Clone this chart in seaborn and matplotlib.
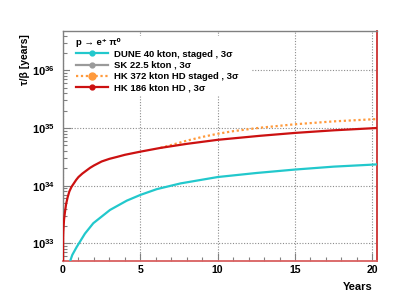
import matplotlib
matplotlib.use("Agg")
import matplotlib.pyplot as plt
import matplotlib.ticker as mticker
from matplotlib.lines import Line2D
from matplotlib.patches import Rectangle
import seaborn as sns
import pandas as pd

# ---------------- data ----------------
hk186_years = [0.0, 0.01, 0.02, 0.04, 0.07, 0.13, 0.2, 0.3, 0.41, 0.55, 0.7, 0.85,
               1.0, 1.25, 1.5, 1.75, 2.0, 2.5, 3.0, 3.5, 4.0, 5.0, 6.3, 8.0, 10.0,
               12.75, 15.0, 17.5, 20.3]
hk186_tau = [3.0e32, 1.29e33, 1.58e33, 2.0e33, 2.63e33, 3.55e33, 4.79e33, 6.31e33,
             7.94e33, 9.55e33, 1.096e34, 1.259e34, 1.413e34, 1.622e34, 1.82e34,
             2.04e34, 2.24e34, 2.63e34, 2.92e34, 3.16e34, 3.43e34, 3.89e34, 4.52e34,
             5.31e34, 6.24e34, 7.33e34, 8.22e34, 9.12e34, 1.0e35]

dune_years = [0.42, 0.6, 0.89, 1.42, 1.96, 3.04, 4.12, 5.0, 6.06, 7.6, 10.0, 12.5,
              15.0, 17.5, 20.3]
dune_tau = [4.57e32, 6.31e32, 8.71e32, 1.479e33, 2.24e33, 3.80e33, 5.50e33, 6.92e33,
            8.71e33, 1.096e34, 1.413e34, 1.66e34, 1.905e34, 2.14e34, 2.34e34]

hk372_years = [6.3, 7.0, 8.0, 9.0, 10.0, 11.0, 12.75, 15.0, 17.5, 20.3]
hk372_tau = [4.52e34, 5.07e34, 6.03e34, 7.0e34, 7.94e34, 8.81e34, 1.012e35, 1.161e35,
             1.303e35, 1.429e35]

sk_years = []
sk_tau = []

labels = ["DUNE 40 kton, staged , 3σ", "SK 22.5 kton , 3σ",
          "HK 372 kton HD staged , 3σ", "HK 186 kton HD , 3σ"]
x_ticks = [0, 5, 10, 15, 20]
y_exponents = [33, 34, 35, 36]

# ---------------- style ----------------
plt.rcParams['font.family'] = ['Liberation Sans', 'DejaVu Sans']
plt.rcParams['mathtext.fontset'] = 'custom'
plt.rcParams['mathtext.rm'] = 'Liberation Sans:bold'
plt.rcParams['mathtext.bf'] = 'Liberation Sans:bold'
plt.rcParams['mathtext.it'] = 'Liberation Sans:italic'

c_dune = '#22c8cc'
c_sk = '#9a9a9a'
c_hk372 = '#ff9a3c'
c_hk186 = '#cc1111'
grey = '#808080'

fig = plt.figure(figsize=(4.19, 2.97), dpi=100)
ax = fig.add_axes([63 / 419, 1 - 260.7 / 297, 314 / 419, 230.2 / 297])

def df(x, y):
    return pd.DataFrame({"Years": x, "tau": y})

sns.lineplot(data=df(dune_years, dune_tau), x="Years", y="tau", ax=ax,
             color=c_dune, linewidth=1.6, zorder=3)
if len(sk_years):
    sns.lineplot(data=df(sk_years, sk_tau), x="Years", y="tau", ax=ax,
                 color=c_sk, linewidth=1.6, zorder=3)
sns.lineplot(data=df(hk372_years, hk372_tau), x="Years", y="tau", ax=ax,
             color=c_hk372, linewidth=1.6, linestyle=(0, (1, 1.2)), zorder=3)
sns.lineplot(data=df(hk186_years, hk186_tau), x="Years", y="tau", ax=ax,
             color=c_hk186, linewidth=1.6, zorder=4)

ax.set_yscale('log')
ax.set_xlim(0, 20.3)
ax.set_ylim(10 ** 32.70, 10 ** 36.69)

# ticks
ax.set_xticks(x_ticks)
ax.set_xticklabels([str(v) for v in x_ticks])
ax.xaxis.set_minor_locator(mticker.MultipleLocator(1))
ax.set_yticks([10.0 ** e for e in y_exponents])
ax.set_yticklabels([r'$\mathbf{10^{%d}}$' % e for e in y_exponents])
ax.yaxis.set_minor_locator(mticker.LogLocator(base=10, subs=range(2, 10), numticks=20))
ax.yaxis.set_minor_formatter(mticker.NullFormatter())
ax.tick_params(axis='both', which='both', direction='in', color=grey, width=0.8,
               top=False, right=False)
ax.tick_params(axis='both', which='major', length=6)
ax.tick_params(axis='both', which='minor', length=3)
ax.tick_params(axis='x', which='major', labelsize=7.6, pad=3)
ax.tick_params(axis='y', which='major', labelsize=8.0, pad=6)
for lab in ax.get_xticklabels():
    lab.set_fontweight('bold')

# grid
ax.grid(True, which='major', linestyle=(0, (1, 1.5)), color='#8c8c8c', linewidth=0.8)

# spines
for s in ['left', 'top']:
    ax.spines[s].set_color(grey)
    ax.spines[s].set_linewidth(1.0)
ax.spines['right'].set_color('#cc3030')
ax.spines['bottom'].set_color('#d96060')
ax.spines['right'].set_linewidth(1.3)
ax.spines['bottom'].set_linewidth(1.3)

# labels
ax.set_xlabel('Years', fontsize=8, fontweight='bold', loc='right')
ax.xaxis.set_label_coords(0.985, -0.115)
ax.xaxis.label.set_va('center')
ax.set_ylabel('τ/β [years]', fontsize=7.5, fontweight='bold', loc='top')
ax.yaxis.set_label_coords(-0.105, 0.985)

# legend background
ax.add_patch(Rectangle((0.022, 0.72), 0.58, 0.255, transform=ax.transAxes,
                       facecolor='white', edgecolor='none', zorder=2.6))

handles = [
    Line2D([], [], color=c_dune, lw=1.6, marker='o', ms=3.5),
    Line2D([], [], color=c_sk, lw=1.6, marker='o', ms=3.5),
    Line2D([], [], color=c_hk372, lw=1.6, ls=(0, (1, 1.2)), marker='o', ms=5),
    Line2D([], [], color=c_hk186, lw=1.6, marker='o', ms=3.5),
]
leg = ax.legend(handles, labels, loc='upper left', bbox_to_anchor=(0.035, 0.975),
                frameon=False, prop={'size': 6.8, 'weight': 'bold'},
                title='p → e⁺ π⁰', title_fontproperties={'size': 6.8, 'weight': 'bold'},
                alignment='left', handlelength=3.4, handletextpad=0.6,
                labelspacing=0.25, borderpad=0.2, borderaxespad=0)
leg.set_zorder(5)

fig.savefig('out.png', dpi=100)
